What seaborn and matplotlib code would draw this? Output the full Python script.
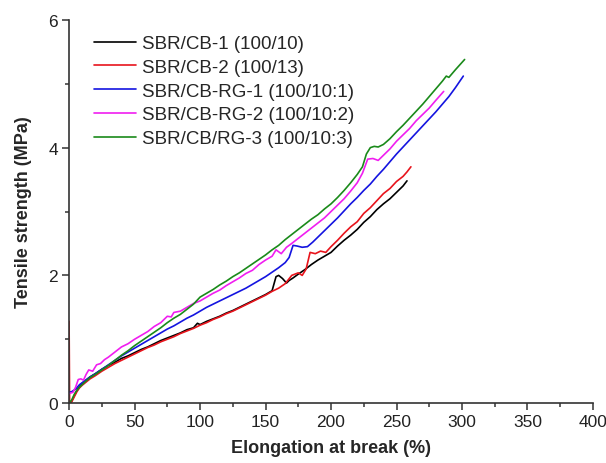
import pandas as pd
import numpy as np
import matplotlib
matplotlib.use("Agg")
import matplotlib.pyplot as plt
import seaborn as sns
from matplotlib.ticker import MultipleLocator

# === Data ===
labels = ["SBR/CB-1 (100/10)", "SBR/CB-2 (100/13)", "SBR/CB-RG-1 (100/10:1)",
          "SBR/CB-RG-2 (100/10:2)", "SBR/CB/RG-3 (100/10:3)"]
colors = ["black", "#e8141c", "#1414e0", "#f01ef0", "#1a8a1a"]

cb1_x = [0, 2, 4, 6, 8, 10, 13, 16, 20, 25, 30, 35, 40, 45, 50, 55, 60, 65, 70, 75, 80, 85, 90, 95, 98,
         100, 105, 110, 115, 120, 125, 130, 135, 140, 145, 150, 155, 158, 160, 163, 166, 168, 171, 175,
         180, 185, 190, 195, 200, 205, 210, 215, 220, 225, 230, 235, 240, 245, 250, 255, 258]
cb1_y = [0, 0.03, 0.12, 0.2, 0.26, 0.31, 0.36, 0.41, 0.46, 0.53, 0.59, 0.64, 0.7, 0.74, 0.79, 0.84, 0.88,
         0.93, 0.98, 1.02, 1.06, 1.1, 1.15, 1.18, 1.25, 1.23, 1.28, 1.32, 1.36, 1.41, 1.45, 1.5, 1.55, 1.6,
         1.65, 1.7, 1.76, 1.98, 2.0, 1.95, 1.88, 1.92, 1.96, 2.02, 2.09, 2.17, 2.24, 2.3, 2.36, 2.46, 2.55,
         2.63, 2.72, 2.83, 2.92, 3.03, 3.12, 3.2, 3.3, 3.4, 3.48]

cb2_x = [0, 0.4, 2, 4, 6, 8, 10, 13, 16, 20, 25, 30, 35, 40, 45, 50, 55, 60, 65, 70, 75, 80, 85, 90, 95,
         100, 105, 110, 115, 120, 125, 130, 135, 140, 145, 150, 155, 160, 165, 170, 175, 178, 181, 184,
         188, 192, 196, 200, 205, 210, 215, 220, 225, 230, 235, 240, 245, 250, 255, 258, 261]
cb2_y = [1.28, 0, 0.02, 0.1, 0.18, 0.24, 0.28, 0.33, 0.38, 0.43, 0.5, 0.56, 0.62, 0.67, 0.72, 0.77, 0.82,
         0.87, 0.91, 0.96, 1.0, 1.04, 1.09, 1.13, 1.17, 1.22, 1.26, 1.31, 1.35, 1.4, 1.44, 1.49, 1.54, 1.59,
         1.64, 1.69, 1.75, 1.8, 1.87, 2.0, 2.04, 2.0, 2.1, 2.36, 2.34, 2.38, 2.36, 2.45, 2.55, 2.66, 2.76,
         2.84, 2.97, 3.06, 3.17, 3.28, 3.36, 3.47, 3.55, 3.62, 3.7]

rg1_x = [0, 2, 5, 8, 12, 16, 20, 25, 30, 35, 40, 45, 50, 55, 60, 65, 70, 75, 80, 85, 90, 95, 100, 105,
         110, 115, 120, 125, 130, 135, 140, 145, 150, 155, 160, 165, 168, 171, 174, 178, 182, 186, 190,
         195, 200, 205, 210, 215, 220, 225, 230, 235, 240, 245, 250, 255, 260, 265, 270, 275, 280, 285,
         290, 295, 301]
rg1_y = [0.17, 0.18, 0.22, 0.29, 0.35, 0.41, 0.46, 0.53, 0.6, 0.67, 0.74, 0.8, 0.86, 0.92, 0.98, 1.04,
         1.1, 1.16, 1.21, 1.27, 1.33, 1.38, 1.44, 1.5, 1.55, 1.6, 1.65, 1.7, 1.75, 1.8, 1.86, 1.92, 1.98,
         2.05, 2.12, 2.2, 2.28, 2.47, 2.46, 2.44, 2.45, 2.52, 2.6, 2.7, 2.8, 2.9, 3.01, 3.12, 3.22, 3.33,
         3.43, 3.55, 3.66, 3.78, 3.9, 4.01, 4.12, 4.23, 4.34, 4.45, 4.56, 4.68, 4.8, 4.94, 5.12]

rg2_x = [0, 3, 5, 7, 9, 11, 13, 15, 18, 21, 24, 27, 30, 35, 40, 45, 50, 55, 60, 65, 70, 75, 78, 80, 85,
         90, 95, 100, 105, 110, 115, 120, 125, 130, 135, 140, 145, 150, 155, 158, 162, 166, 170, 175, 180,
         185, 190, 195, 200, 205, 210, 215, 220, 224, 228, 232, 236, 240, 245, 250, 255, 260, 265, 270,
         275, 280, 286]
rg2_y = [0.15, 0.17, 0.25, 0.37, 0.38, 0.36, 0.45, 0.52, 0.5, 0.6, 0.62, 0.68, 0.72, 0.8, 0.88, 0.93,
         1.0, 1.06, 1.12, 1.2, 1.26, 1.36, 1.35, 1.42, 1.44, 1.5, 1.56, 1.6, 1.66, 1.72, 1.77, 1.84, 1.9,
         1.96, 2.03, 2.08, 2.17, 2.24, 2.3, 2.4, 2.34, 2.44, 2.5, 2.58, 2.66, 2.74, 2.82, 2.9, 3.0, 3.1,
         3.2, 3.32, 3.45, 3.6, 3.82, 3.83, 3.8, 3.88, 3.98, 4.1, 4.2, 4.3, 4.42, 4.52, 4.62, 4.74, 4.88]

rg3_x = [0, 2, 4, 6, 8, 12, 16, 20, 25, 30, 35, 40, 45, 50, 55, 60, 65, 70, 75, 80, 85, 90, 95, 100, 105,
         110, 115, 120, 125, 130, 135, 140, 145, 150, 155, 160, 165, 170, 175, 180, 185, 190, 195, 200,
         205, 210, 215, 220, 224, 227, 230, 233, 236, 240, 245, 250, 255, 260, 265, 270, 275, 280, 285,
         288, 290, 295, 302]
rg3_y = [0, 0.05, 0.14, 0.2, 0.25, 0.33, 0.4, 0.45, 0.52, 0.59, 0.67, 0.75, 0.82, 0.9, 0.97, 1.04, 1.11,
         1.18, 1.26, 1.33, 1.39, 1.47, 1.55, 1.66, 1.72, 1.78, 1.85, 1.91, 1.98, 2.04, 2.11, 2.18, 2.25,
         2.32, 2.4, 2.47, 2.56, 2.64, 2.72, 2.8, 2.88, 2.95, 3.04, 3.12, 3.22, 3.33, 3.45, 3.58, 3.7, 3.9,
         4.0, 4.02, 4.01, 4.05, 4.14, 4.25, 4.35, 4.46, 4.57, 4.68, 4.8, 4.92, 5.04, 5.12, 5.1, 5.22, 5.38]

series_x = [cb1_x, cb2_x, rg1_x, rg2_x, rg3_x]
series_y = [cb1_y, cb2_y, rg1_y, rg2_y, rg3_y]

frames = []
for lab, xs, ys in zip(labels, series_x, series_y):
    frames.append(pd.DataFrame({"elong": xs, "tensile": ys, "sample": lab,
                                "order": np.arange(len(xs))}))
df = pd.concat(frames, ignore_index=True)

# === Plot ===
sns.set_style("ticks")
plt.rcParams["font.family"] = ["Liberation Sans", "DejaVu Sans"]

fig = plt.figure(figsize=(6.06, 4.64), dpi=100)
ax = fig.add_axes([0.114, 0.129, 0.8645, 0.826])

sns.lineplot(data=df, x="elong", y="tensile", hue="sample", hue_order=labels,
             palette=colors, sort=False, estimator=None, units="sample",
             linewidth=1.2, ax=ax)

ax.set_xlim(0, 400)
ax.set_ylim(0, 6)
ax.xaxis.set_major_locator(MultipleLocator(50))
ax.xaxis.set_minor_locator(MultipleLocator(25))
ax.yaxis.set_major_locator(MultipleLocator(2))
ax.yaxis.set_minor_locator(MultipleLocator(1))

ax.tick_params(which="major", direction="out", length=5, width=1.1, color="#333333",
               labelsize=12.5, labelcolor="#222222", pad=3)
ax.tick_params(which="minor", direction="out", length=3, width=1.1, color="#333333")
for side in ["left", "bottom"]:
    ax.spines[side].set_linewidth(1.2)
    ax.spines[side].set_color("#333333")
sns.despine(ax=ax)

ax.set_xlabel("Elongation at break (%)", fontsize=13, fontweight="bold", labelpad=7)
ax.set_ylabel("Tensile strength (MPa)", fontsize=13, fontweight="bold", labelpad=12)

ax.legend(loc="upper left", bbox_to_anchor=(0.048, 0.96), frameon=False, fontsize=13.5,
          handlelength=2.25, handletextpad=0.32, labelspacing=0.35, borderpad=0,
          borderaxespad=0)

fig.savefig("out.png", dpi=100)
